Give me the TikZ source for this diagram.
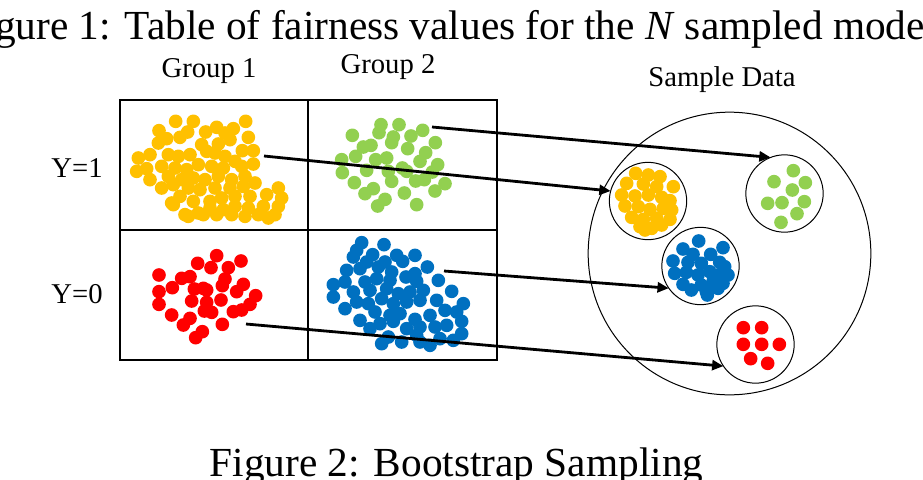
\documentclass[tikz,border=0pt]{standalone}
\usepackage{fontspec}
\setmainfont{Liberation Serif}
\usetikzlibrary{arrows.meta}
\definecolor{dotyellow}{HTML}{FFC000}
\definecolor{dotgreen}{HTML}{92D050}
\definecolor{dotblue}{HTML}{0070C0}
\definecolor{dotred}{HTML}{FF0000}
\newcommand\dotcluster[3]{%
  \begin{scope}[shift={(#1)},scale=1/3]
    \foreach \xx/\yy in {#3} \fill[#2] (\xx,\yy) circle (20.5);
  \end{scope}}
\tikzset{
  caption/.style={anchor=base,font=\fontsize{31}{37}\selectfont,inner sep=0},
  label/.style={anchor=base,font=\fontsize{21.5}{26}\selectfont,inner sep=0},
  gridline/.style={line width=1.5pt},
  sample/.style={circle,draw,line width=0.75pt,minimum size=58pt,inner sep=0,outer sep=0},
  bigcircle/.style={circle,draw,line width=0.75pt,minimum size=212pt,inner sep=0,outer sep=0},
  samplearrow/.style={line width=2.1pt,-{Triangle[length=8.5pt,width=7.5pt]}}
}
\begin{document}
\begin{tikzpicture}[x=0.75pt,y=-0.75pt]
\useasboundingbox (0,0) rectangle (923,479);
\clip (0,0) rectangle (923,479);

% captions and labels
\node[caption] (cap1) at (456.5,39) {Figure 1: Table of fairness values for the \textit{N} sampled models};
\node[caption] (cap2) at (456.5,476) {Figure 2: Bootstrap Sampling};
\node[label] (g1) at (209,77) {Group 1};
\node[label] (g2) at (388,73.5) {Group 2};
\node[label] (sd) at (722,86) {Sample Data};
\node[label] (y1) at (77,177) {Y=1};
\node[label] (y0) at (77,303) {Y=0};

% table
\draw[gridline] (120,100) rectangle (497,360);
\draw[gridline] (307.5,100) -- (307.5,360);
\draw[gridline] (120,230) -- (497,230);

% clusters in table
\dotcluster{135,108}{dotyellow}{122/40,175/40,332/40,245/58,295/62,72/68,158/72,212/72,270/75,
  95/92,135/88,340/88,285/95,70/105,200/110,250/108,322/128,355/128,
  10/150,45/140,100/140,130/145,165/140,215/130,240/135,270/145,300/160,355/168,
  35/182,80/175,120/180,155/185,190/170,230/175,265/180,320/175,
  5/190,45/215,100/205,140/215,175/210,210/215,250/205,290/215,330/205,360/225,
  80/240,115/230,160/240,195/245,240/240,285/240,325/235,430/240,
  110/285,135/265,175/280,225/280,260/270,300/265,345/265,395/260,
  115/290,150/320,190/315,225/300,265/305,300/295,340/300,385/295,430/295,
  160/325,205/320,245/320,290/320,330/325,370/320,420/320,440/270,400/330}
\dotcluster{325,112}{dotgreen}{168/38,222/38,82/70,162/62,205/75,293/55,258/72,331/92,
  138/100,115/105,200/92,248/110,302/122,50/143,92/133,152/143,185/138,285/148,338/158,
  52/182,125/175,190/178,232/168,245/178,322/180,88/212,200/208,272/207,298/203,360/215,
  145/230,120/245,238/243,330/237,180/262,158/282,275/278}
\dotcluster{145,245}{dotred}{215/32,158/55,288/48,198/68,250/68,42/90,110/100,135/95,
  240/102,232/122,295/118,82/128,148/132,175/130,185/135,42/140,275/140,332/152,
  140/168,185/172,228/165,315/178,42/178,178/198,200/202,265/200,290/195,
  80/210,135/220,115/240,232/238,172/260,152/278}
\dotcluster{320,232}{dotblue}{125/32,192/38,110/55,100/75,158/68,230/70,285/70,140/90,195/90,
  248/88,322/105,80/115,120/110,175/105,215/120,285/125,40/158,75/150,135/150,170/140,
  210/145,258/135,290/148,355/145,40/195,100/180,150/175,200/170,235/185,270/180,310/175,
  395/178,75/230,110/210,145/215,185/200,220/215,260/210,300/205,350/205,430/215,
  120/265,165/240,210/250,240/245,285/262,330/250,375/235,410/240,150/290,180/275,
  220/268,260/290,300/285,345/285,380/280,425/268,185/335,205/315,245/330,290/310,
  330/340,360/320,400/325,425/305,300/330}

% sample data
\node[bigcircle] (bigc) at (729.5,253.5) {};
\node[sample] (ys) at (648,201) {};
\node[sample] (gs) at (784.5,193.5) {};
\node[sample] (bs) at (700.5,266) {};
\node[sample] (rs) at (755.5,344.5) {};

\dotcluster{605,160}{dotyellow}{92/40,130/45,165/50,65/70,115/72,155/80,205/80,50/105,90/108,
  130/105,170/112,195/122,60/138,100/140,135/148,175/145,200/150,80/172,115/178,155/175,
  195/178,105/200,140/205,170/195,120/210}
\dotcluster{658,225}{dotblue}{122/48,75/72,195/68,105/88,158/88,45/108,90/112,130/115,185/112,
  200/125,50/145,85/142,120/150,155/140,180/150,210/150,75/178,130/180,165/170,195/175,
  100/195,145/200,180/190,148/210}
\dotcluster{580,120}{dotgreen}{640/152,582/185,676/188,637/210,563/250,606/248,673/245,651/281,603/307}
\dotcluster{580,120}{dotred}{490/623,545/623,490/673,545/673,598/673,512/716,563/730}

% arrows
\coordinate (ga) at (432,127);
\coordinate (ya) at (264,156);
\coordinate (ba) at (444,271);
\coordinate (ra) at (246,324);
\draw[samplearrow] (ga) -- (gs.111);
\draw[samplearrow] (ya) -- (ys.165);
\draw[samplearrow] (ba) -- (bs.215);
\draw[samplearrow] (ra) -- (rs.214);
\end{tikzpicture}
\end{document}
